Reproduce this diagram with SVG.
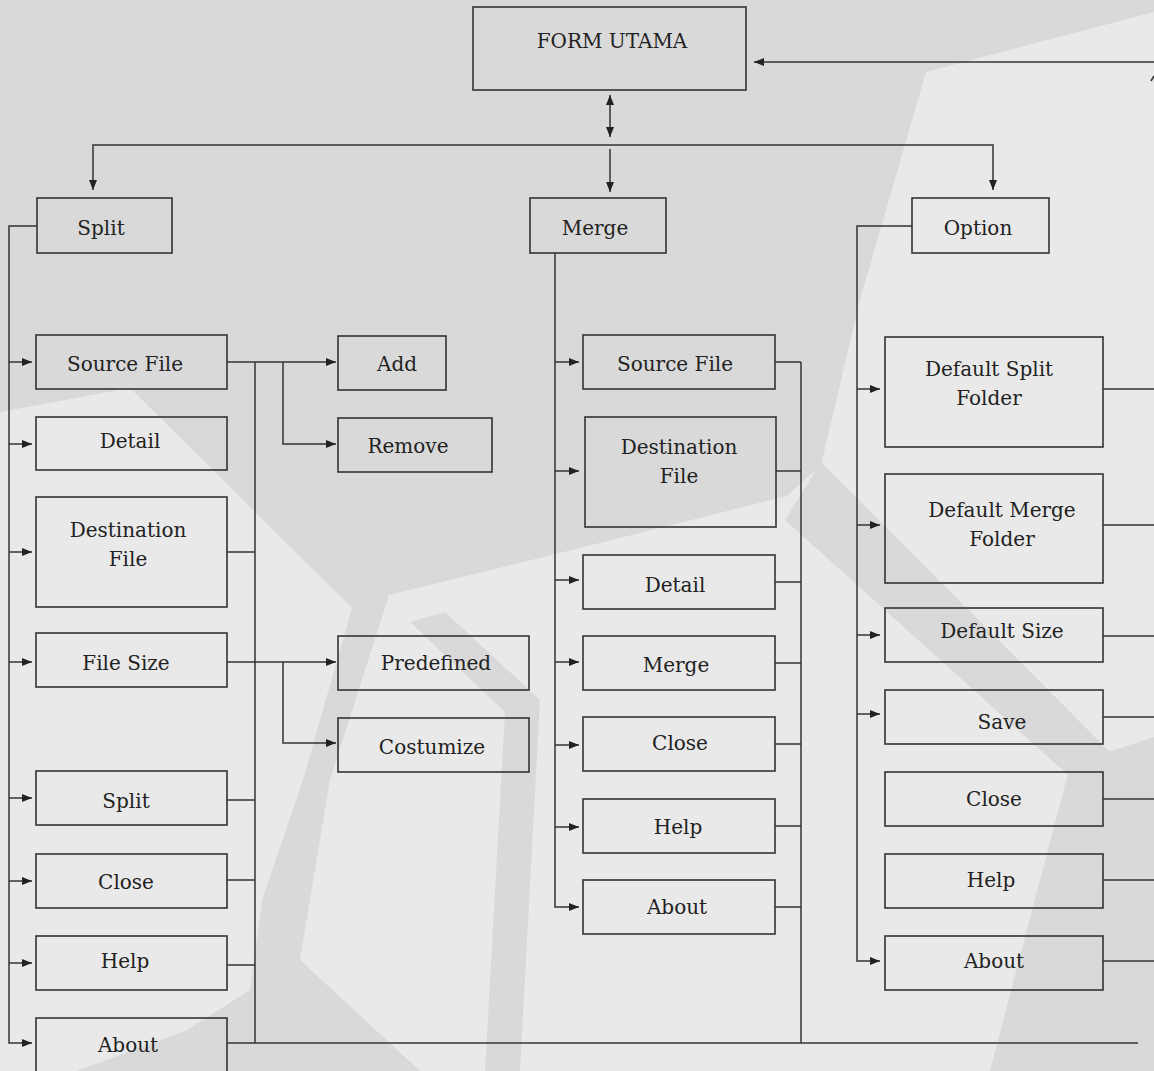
<svg xmlns="http://www.w3.org/2000/svg" width="1154" height="1071" viewBox="0 0 1154 1071">
<defs>
<style>
.bx{fill:none;stroke:#333;stroke-width:1.6}
.t{font-family:"DejaVu Serif","Liberation Serif",serif;font-size:20px;fill:#222;text-anchor:middle}
.c{fill:none;stroke:#333;stroke-width:1.5}
.a{marker-end:url(#ah)}
.dk{fill:#d9d9d9}
</style>
<marker id="ah" viewBox="0 0 10 8" refX="10" refY="4" markerWidth="10" markerHeight="8" markerUnits="userSpaceOnUse" orient="auto-start-reverse">
<path d="M0,0 L10,4 L0,8 z" fill="#222"/>
</marker>
</defs>
<g id="background">
<rect x="0" y="0" width="1154" height="1071" fill="#e9e9e9"/>
<polygon class="dk" points="0,0 1154,0 1154,12 926,72 860,300 821,465 787,496 580,548 389,595 352,608 130,388 0,412"/>
<polygon class="dk" points="352,608 389,595 330,780 300,960 420,1071 77,1071 187,1030 250,990 262,900 303,780"/>
<polygon class="dk" points="410,622 445,612 540,700 520,1071 485,1071 505,712"/>
<polygon class="dk" points="821,462 1110,752 1068,775 785,520"/>
<polygon class="dk" points="1154,737 1105,753 1068,773 990,1071 1154,1071"/>
</g>
<g id="connectors">
<path class="c a" d="M1154,62 H754"/>
<path class="c" d="M610,95 V137" marker-start="url(#ah)" marker-end="url(#ah)"/>
<path class="c" d="M93,190 V145 H993 V190" marker-start="url(#ah)" marker-end="url(#ah)"/>
<path class="c a" d="M610,149 V192"/>
<path class="c" d="M1154,76 L1151,81"/>
<path class="c a" d="M37,226 H9 V1043 H32"/>
<path class="c a" d="M9,362 H32"/>
<path class="c a" d="M9,444 H32"/>
<path class="c a" d="M9,552 H32"/>
<path class="c a" d="M9,662 H32"/>
<path class="c a" d="M9,798 H32"/>
<path class="c a" d="M9,881 H32"/>
<path class="c a" d="M9,963 H32"/>
<path class="c a" d="M227,362 H336"/>
<path class="c a" d="M283,362 V444 H336"/>
<path class="c" d="M255,362 V1043"/>
<path class="c" d="M227,552 H255"/>
<path class="c a" d="M227,662 H336"/>
<path class="c a" d="M283,662 V743 H336"/>
<path class="c" d="M227,800 H255"/>
<path class="c" d="M227,880 H255"/>
<path class="c" d="M227,965 H255"/>
<path class="c" d="M227,1043 H1138"/>
<path class="c a" d="M555,253 V907 H579"/>
<path class="c a" d="M555,362 H579"/>
<path class="c a" d="M555,471 H579"/>
<path class="c a" d="M555,580 H579"/>
<path class="c a" d="M555,662 H579"/>
<path class="c a" d="M555,745 H579"/>
<path class="c a" d="M555,827 H579"/>
<path class="c" d="M801,362 V1043"/>
<path class="c" d="M775,362 H801"/>
<path class="c" d="M776,471 H801"/>
<path class="c" d="M775,582 H801"/>
<path class="c" d="M775,663 H801"/>
<path class="c" d="M775,744 H801"/>
<path class="c" d="M775,826 H801"/>
<path class="c" d="M775,907 H801"/>
<path class="c a" d="M912,226 H857 V961 H880"/>
<path class="c a" d="M857,389 H880"/>
<path class="c a" d="M857,525 H880"/>
<path class="c a" d="M857,635 H880"/>
<path class="c a" d="M857,714 H880"/>
<path class="c" d="M1103,389 H1154"/>
<path class="c" d="M1103,525 H1154"/>
<path class="c" d="M1103,636 H1154"/>
<path class="c" d="M1103,717 H1154"/>
<path class="c" d="M1103,799 H1154"/>
<path class="c" d="M1103,880 H1154"/>
<path class="c" d="M1103,961 H1154"/>
</g>
<g id="form-utama"><rect class="bx" x="473" y="7" width="273" height="83"/><text class="t" x="612" y="48">FORM UTAMA</text></g>
<g id="split"><rect class="bx" x="37" y="198" width="135" height="55"/><text class="t" x="101" y="235">Split</text></g>
<g id="merge"><rect class="bx" x="530" y="198" width="136" height="55"/><text class="t" x="595" y="235">Merge</text></g>
<g id="option"><rect class="bx" x="912" y="198" width="137" height="55"/><text class="t" x="978" y="235">Option</text></g>
<g id="s-source"><rect class="bx" x="36" y="335" width="191" height="54"/><text class="t" x="125" y="371">Source File</text></g>
<g id="s-detail"><rect class="bx" x="36" y="417" width="191" height="53"/><text class="t" x="130" y="448">Detail</text></g>
<g id="s-dest"><rect class="bx" x="36" y="497" width="191" height="110"/><text class="t" x="128" y="537">Destination</text><text class="t" x="128" y="566">File</text></g>
<g id="s-filesize"><rect class="bx" x="36" y="633" width="191" height="54"/><text class="t" x="126" y="670">File Size</text></g>
<g id="s-split"><rect class="bx" x="36" y="771" width="191" height="54"/><text class="t" x="126" y="808">Split</text></g>
<g id="s-close"><rect class="bx" x="36" y="854" width="191" height="54"/><text class="t" x="126" y="889">Close</text></g>
<g id="s-help"><rect class="bx" x="36" y="936" width="191" height="54"/><text class="t" x="125" y="968">Help</text></g>
<g id="s-about"><rect class="bx" x="36" y="1018" width="191" height="60"/><text class="t" x="128" y="1052">About</text></g>
<g id="add"><rect class="bx" x="338" y="336" width="108" height="54"/><text class="t" x="397" y="371">Add</text></g>
<g id="remove"><rect class="bx" x="338" y="418" width="154" height="54"/><text class="t" x="408" y="453">Remove</text></g>
<g id="predefined"><rect class="bx" x="338" y="636" width="191" height="54"/><text class="t" x="436" y="670">Predefined</text></g>
<g id="costumize"><rect class="bx" x="338" y="718" width="191" height="54"/><text class="t" x="432" y="754">Costumize</text></g>
<g id="m-source"><rect class="bx" x="583" y="335" width="192" height="54"/><text class="t" x="675" y="371">Source File</text></g>
<g id="m-dest"><rect class="bx" x="585" y="417" width="191" height="110"/><text class="t" x="679" y="454">Destination</text><text class="t" x="679" y="483">File</text></g>
<g id="m-detail"><rect class="bx" x="583" y="555" width="192" height="54"/><text class="t" x="675" y="592">Detail</text></g>
<g id="m-merge"><rect class="bx" x="583" y="636" width="192" height="54"/><text class="t" x="676" y="672">Merge</text></g>
<g id="m-close"><rect class="bx" x="583" y="717" width="192" height="54"/><text class="t" x="680" y="750">Close</text></g>
<g id="m-help"><rect class="bx" x="583" y="799" width="192" height="54"/><text class="t" x="678" y="834">Help</text></g>
<g id="m-about"><rect class="bx" x="583" y="880" width="192" height="54"/><text class="t" x="677" y="914">About</text></g>
<g id="o-splitfolder"><rect class="bx" x="885" y="337" width="218" height="110"/><text class="t" x="989" y="376">Default Split</text><text class="t" x="989" y="405">Folder</text></g>
<g id="o-mergefolder"><rect class="bx" x="885" y="474" width="218" height="109"/><text class="t" x="1002" y="517">Default Merge</text><text class="t" x="1002" y="546">Folder</text></g>
<g id="o-size"><rect class="bx" x="885" y="608" width="218" height="54"/><text class="t" x="1002" y="638">Default Size</text></g>
<g id="o-save"><rect class="bx" x="885" y="690" width="218" height="54"/><text class="t" x="1002" y="729">Save</text></g>
<g id="o-close"><rect class="bx" x="885" y="772" width="218" height="54"/><text class="t" x="994" y="806">Close</text></g>
<g id="o-help"><rect class="bx" x="885" y="854" width="218" height="54"/><text class="t" x="991" y="887">Help</text></g>
<g id="o-about"><rect class="bx" x="885" y="936" width="218" height="54"/><text class="t" x="994" y="968">About</text></g>
</svg>
